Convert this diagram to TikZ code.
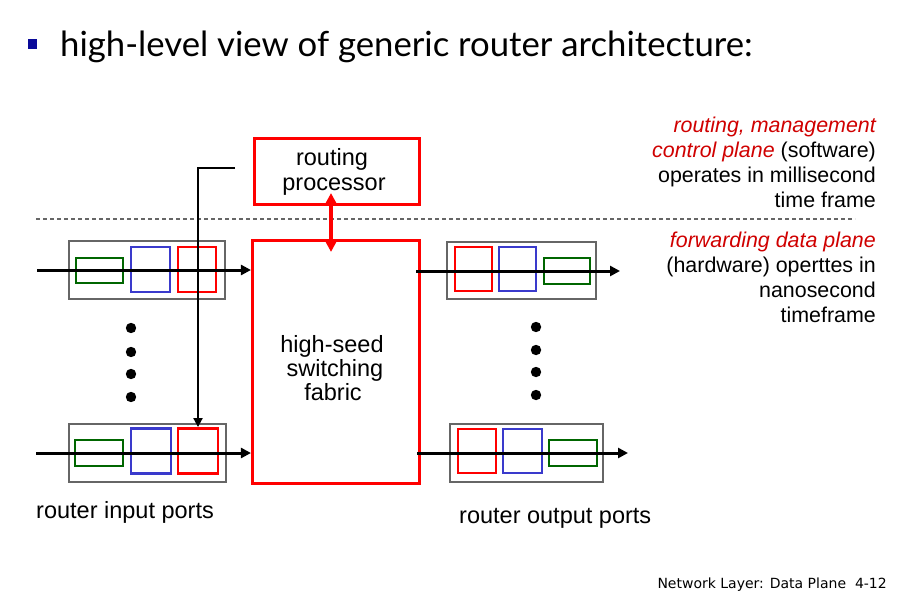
\documentclass[tikz,border=0pt]{standalone}
\usepackage{fontspec}
\setmainfont{Liberation Sans}
\newfontfamily\titlefont{Lato}
\newfontfamily\footfont{DejaVu Sans}
\usetikzlibrary{arrows.meta}
\definecolor{pred}{HTML}{FF0000}
\definecolor{pblue}{HTML}{3A3ACC}
\definecolor{pgreen}{HTML}{006600}
\definecolor{pgray}{HTML}{666666}
\definecolor{bulletblue}{HTML}{0A0A99}
\definecolor{txtred}{HTML}{D00000}
\tikzset{
  boxbase/.style={draw, inner sep=0pt, fill=none},
  outerbox/.style={boxbase, draw=pgray, line width=2.2pt},
  qgreen/.style={boxbase, draw=pgreen, line width=2.9pt},
  qblue/.style={boxbase, draw=pblue, line width=2.9pt},
  qred/.style={boxbase, draw=pred, line width=2.9pt},
  bigred/.style={boxbase, draw=pred, line width=3.1pt, align=center},
  flow/.style={line width=3pt, -{Triangle[length=10pt,width=10pt]}},
  lbl/.style={inner sep=0pt, font=\fontsize{23.5}{24}\selectfont},
  rtxt/.style={inner sep=0pt, anchor=base east, font=\fontsize{21.4}{24}\selectfont},
}
\begin{document}
\begin{tikzpicture}[x=1pt,y=-1pt]
\useasboundingbox (0,0) rectangle (904,599);
\fill[white] (0,0) rectangle (904,599);

% title
\node[fill=bulletblue, minimum width=9pt, minimum height=10pt, inner sep=0pt] (bullet) at (32.5,44) {};
\node[inner sep=0pt, anchor=base west, font=\titlefont\fontsize{34.7}{38}\selectfont] (title) at (60,57) {high-level view of generic router architecture:};

% routing processor and fabric
\node[bigred, minimum width=165pt, minimum height=66pt] (rp) at (337,171.5) {};
\node[lbl, anchor=base] (rpa) at (332,165) {routing};
\node[lbl, anchor=base] (rpb) at (334,190) {processor};
\node[bigred, minimum width=167pt, minimum height=243pt] (fab) at (336,362) {};
\node[lbl, anchor=base] (faba) at (332,352) {high-seed};
\node[lbl, anchor=base] (fabb) at (335,376) {switching};
\node[lbl, anchor=base] (fabc) at (333,400) {fabric};

% dashed separator
\coordinate (dl) at (36,219);
\coordinate (dr) at (855,219);
\draw[pgray, line width=1.2pt, dash pattern=on 4pt off 3pt] (dl) -- (dr);

% input port 1
\node[outerbox, minimum width=156pt, minimum height=58pt] (in1) at (147,270) {};
\node[qgreen, minimum width=47pt, minimum height=25pt] (in1g) at (99.5,270.5) {};
\node[qblue, minimum width=39pt, minimum height=45pt] (in1b) at (150.5,269.5) {};
\node[qred, minimum width=38pt, minimum height=45pt] (in1r) at (197,269.5) {};
\coordinate (in1s) at (37,270);
\draw[flow] (in1s) -- (in1s -| fab.west);

% input port 2
\node[outerbox, minimum width=157pt, minimum height=58pt] (in2) at (147.5,453) {};
\node[qgreen, minimum width=48pt, minimum height=26pt] (in2g) at (99,453) {};
\node[qblue, minimum width=40pt, minimum height=45pt] (in2b) at (151,451) {};
\node[qred, minimum width=40pt, minimum height=45pt] (in2r) at (198,451) {};
\coordinate (in2s) at (36,453);
\draw[flow] (in2s) -- (in2s -| fab.west);

% output port 1
\node[outerbox, minimum width=149pt, minimum height=57pt] (out1) at (521.5,270.5) {};
\node[qred, minimum width=37pt, minimum height=44pt] (out1r) at (473.5,269) {};
\node[qblue, minimum width=37pt, minimum height=44pt] (out1b) at (517.5,269) {};
\node[qgreen, minimum width=46pt, minimum height=26pt] (out1g) at (567,271) {};
\coordinate (out1s) at (416,271);
\coordinate (out1e) at (620,271);
\draw[flow] (out1s) -- (out1e);

% output port 2
\node[outerbox, minimum width=153pt, minimum height=58pt] (out2) at (526.5,453) {};
\node[qred, minimum width=38pt, minimum height=44pt] (out2r) at (477,451) {};
\node[qblue, minimum width=39pt, minimum height=44pt] (out2b) at (522.5,451) {};
\node[qgreen, minimum width=48pt, minimum height=26pt] (out2g) at (573,453) {};
\coordinate (out2s) at (417,453);
\coordinate (out2e) at (628,453);
\draw[flow] (out2s) -- (out2e);

% dots
\foreach \yy in {328,352,374,397} \fill (131,\yy) circle (5.2pt);
\foreach \yy in {327,350,372,395} \fill (536,\yy) circle (5.2pt);

% control line from routing processor to input port
\coordinate (brk) at (235,168);
\draw[line width=1.9pt, -{Triangle[length=9pt,width=9pt]}] (brk) -| (in2r.north);

% red double arrow
\draw[pred, line width=3.2pt, {Triangle[length=11pt,width=11pt]}-{Triangle[length=11pt,width=11pt]}]
  ([xshift=-6pt,yshift=13pt]rp.south) -- ([xshift=-5pt,yshift=-13pt]fab.north);

% port labels
\node[lbl, anchor=base west] (inlbl) at (36,518) {router input ports};
\node[lbl, anchor=base west] (outlbl) at (459,523) {router output ports};

% right side text
\node[rtxt] (t1) at (876,132) {\color{txtred}\itshape routing, management};
\node[rtxt] (t2) at (876,157) {{\color{txtred}\itshape control plane} (software)};
\node[rtxt] (t3) at (876,182) {operates in millisecond};
\node[rtxt] (t4) at (876,207) {time frame};
\node[rtxt] (t5) at (876,247) {\color{txtred}\itshape forwarding data plane};
\node[rtxt] (t6) at (876,272) {(hardware) operttes in};
\node[rtxt] (t7) at (876,297) {nanosecond};
\node[rtxt] (t8) at (876,322) {timeframe};

% footer
\node[inner sep=0pt, anchor=base east, font=\footfont\fontsize{14}{17}\selectfont] (foot) at (887,588) {Network Layer: Data Plane\ \ 4-12};
\end{tikzpicture}
\end{document}
